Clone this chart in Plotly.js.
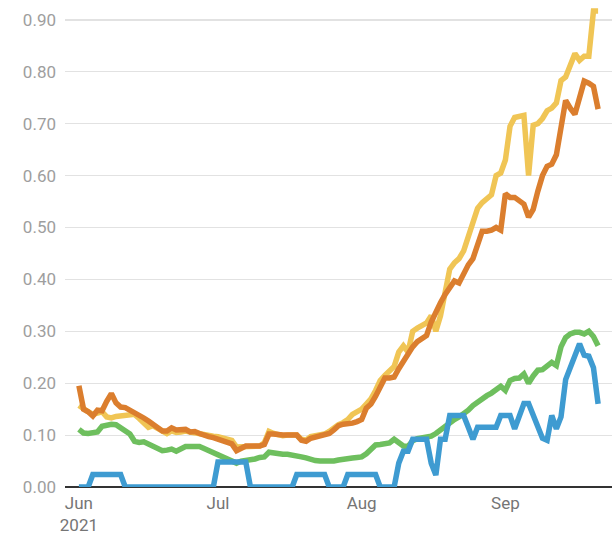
<!DOCTYPE html>
<html>
<head>
<meta charset="utf-8">
<script src="https://cdn.plot.ly/plotly-3.0.1.min.js"></script>
<style>html,body{margin:0;padding:0;background:#fff;}#chart{width:615px;height:541px;}</style>
</head>
<body>
<div id="chart"></div>
<script>
// Daily series, 2021-06-01 .. 2021-09-21
const startDate = "2021-06-01";
const tickDates = ["2021-06-01", "2021-07-01", "2021-08-01", "2021-09-01"];
const tickLabels = ["Jun<br>2021", "Jul", "Aug", "Sep"];
const yTicks = [0, 0.1, 0.2, 0.3, 0.4, 0.5, 0.6, 0.7, 0.8, 0.9];

const yellowSeries = [
  0.157,0.15,0.145,0.14,0.143,0.145,0.135,0.133,0.136,0.137,
  0.138,0.14,0.14,0.132,0.122,0.115,0.118,0.112,0.107,0.103,
  0.108,0.105,0.106,0.108,0.106,0.104,0.102,0.1,0.098,0.098,
  0.097,0.095,0.093,0.09,0.077,0.077,0.079,0.078,0.078,0.079,
  0.085,0.107,0.103,0.1,0.099,0.1,0.1,0.1,0.092,0.09,
  0.097,0.099,0.1,0.102,0.107,0.114,0.12,0.124,0.13,0.14,
  0.146,0.15,0.16,0.17,0.186,0.205,0.215,0.222,0.232,0.26,
  0.272,0.26,0.3,0.306,0.31,0.316,0.33,0.3,0.33,0.37,
  0.42,0.432,0.44,0.455,0.485,0.515,0.537,0.548,0.555,0.563,
  0.6,0.605,0.63,0.695,0.712,0.713,0.716,0.6,0.697,0.7,
  0.71,0.725,0.73,0.74,0.783,0.79,0.81,0.835,0.822,0.83,
  0.83,0.917,0.917
];
const orangeSeries = [
  0.195,0.15,0.145,0.137,0.148,0.147,0.165,0.18,0.162,0.154,
  0.153,0.148,0.146,0.14,0.133,0.127,0.12,0.115,0.108,0.108,
  0.114,0.11,0.11,0.111,0.106,0.107,0.103,0.099,0.097,0.095,
  0.092,0.09,0.087,0.083,0.07,0.075,0.079,0.079,0.079,0.079,
  0.082,0.102,0.102,0.1,0.1,0.1,0.1,0.1,0.09,0.088,
  0.094,0.096,0.097,0.099,0.103,0.11,0.118,0.121,0.121,0.123,
  0.126,0.13,0.152,0.16,0.175,0.195,0.21,0.21,0.212,0.228,
  0.243,0.257,0.27,0.28,0.285,0.292,0.318,0.34,0.355,0.371,
  0.385,0.397,0.393,0.412,0.428,0.44,0.47,0.493,0.493,0.495,
  0.5,0.495,0.565,0.558,0.558,0.552,0.545,0.52,0.535,0.57,
  0.6,0.618,0.622,0.64,0.69,0.745,0.73,0.718,0.75,0.782,
  0.778,0.772,0.728
];
const greenSeries = [
  0.111,0.104,0.103,0.104,0.106,0.117,0.12,0.121,0.12,0.114,
  0.108,0.102,0.088,0.086,0.087,0.082,0.078,0.074,0.07,0.071,
  0.073,0.069,0.075,0.078,0.078,0.078,0.078,0.074,0.07,0.066,
  0.062,0.059,0.055,0.05,0.046,0.05,0.051,0.052,0.054,0.057,
  0.058,0.067,0.065,0.064,0.063,0.063,0.062,0.061,0.058,0.056,
  0.053,0.051,0.05,0.05,0.049,0.05,0.052,0.054,0.055,0.056,
  0.057,0.058,0.064,0.074,0.081,0.082,0.084,0.085,0.092,0.084,
  0.079,0.078,0.089,0.093,0.095,0.095,0.098,0.103,0.11,0.117,
  0.125,0.13,0.135,0.14,0.148,0.157,0.164,0.17,0.176,0.181,
  0.186,0.194,0.186,0.205,0.209,0.21,0.218,0.2,0.214,0.225,
  0.226,0.234,0.24,0.234,0.27,0.288,0.295,0.298,0.298,0.295,
  0.3,0.29,0.272
];
const blueSeries = [
  0,0,0,
  0.024,0.024,0.024,0.024,0.024,0.024,0.024,
  0,0,0,0,0,0,0,0,0,0,0,0,0,0,0,0,0,0,0,0,
  0.048,0.048,0.048,0.048,0.048,0.048,0.048,
  0,0,0,0,0,0,0,0,0,0,
  0.024,0.024,0.024,0.024,0.024,0.024,0.024,
  0,0,0,0,
  0.024,0.024,0.024,0.024,0.024,0.024,0.024,
  0,0,0,0,
  0.046,0.069,0.069,0.092,0.092,0.092,0.092,0.046,0.023,0.092,0.092,
  0.138,0.138,0.138,0.138,0.115,0.092,0.115,0.115,0.115,0.115,
  0.115,0.138,0.138,0.138,0.112,0.14,0.161,0.161,0.14,0.12,
  0.094,0.09,0.138,0.112,0.135,0.207,0.23,0.255,0.276,0.254,
  0.252,0.23,0.16
];

function dayList(start, n) {
  const out = [];
  const s = new Date(start + "T00:00:00Z");
  for (let i = 0; i < n; i++) {
    const d = new Date(s.getTime() + i * 86400000);
    out.push(d.toISOString().slice(0, 10));
  }
  return out;
}
const dates = dayList(startDate, yellowSeries.length);

function trace(y, color) {
  return {x: dates, y: y, type: "scatter", mode: "lines",
          line: {color: color, width: 5.5}, hoverinfo: "skip", showlegend: false};
}
const data = [
  trace(yellowSeries, "#F0C555"),
  trace(orangeSeries, "#DB7E2E"),
  trace(greenSeries, "#6EBF5E"),
  trace(blueSeries, "#3E9BD1")
];

const layout = {
  width: 615, height: 541,
  margin: {l: 65, r: 3, t: 5, b: 54},
  paper_bgcolor: "#fff", plot_bgcolor: "#fff",
  font: {family: "Roboto, sans-serif", size: 17},
  showlegend: false,
  xaxis: {
    type: "date",
    range: ["2021-05-29", "2021-09-24"],
    tickvals: tickDates, ticktext: tickLabels,
    showgrid: false, zeroline: false, showline: false, ticks: "",
    ticklabelstandoff: 4,
    tickfont: {family: "Roboto, sans-serif", size: 17, color: "#757575"}
  },
  yaxis: {
    range: [0, 0.9287],
    tickvals: yTicks, tickformat: ".2f",
    showgrid: true, gridcolor: "#e2e2e2", gridwidth: 1.2,
    zeroline: true, zerolinecolor: "#333", zerolinewidth: 1.5,
    showline: false, ticks: "",
    ticklabelstandoff: 8,
    tickfont: {family: "Roboto, sans-serif", size: 17, color: "#9e9e9e"}
  }
};

Plotly.newPlot("chart", data, layout, {staticPlot: true, displayModeBar: false});
</script>
</body>
</html>
